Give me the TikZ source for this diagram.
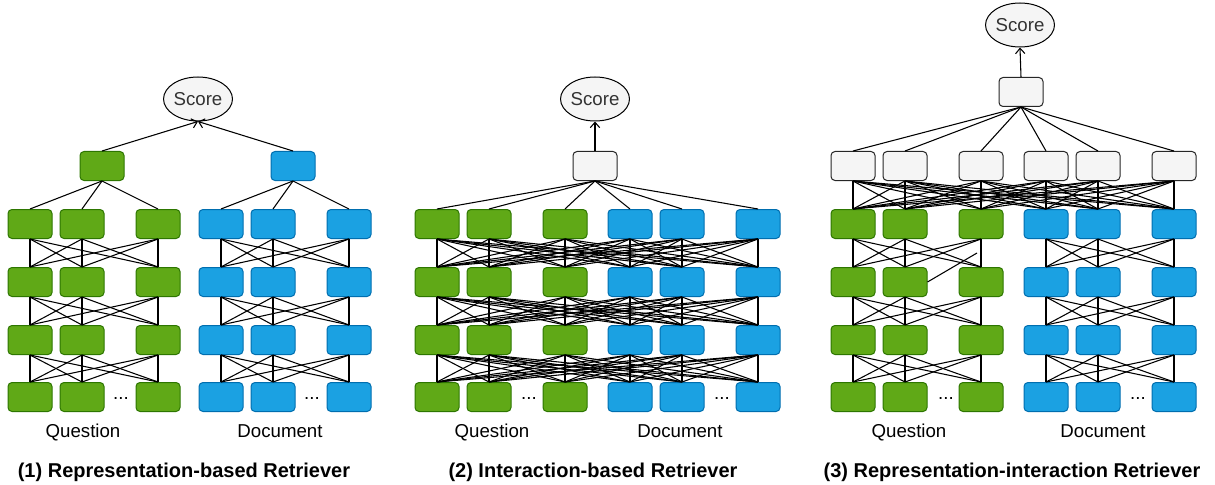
\documentclass[tikz,border=0pt]{standalone}
\usepackage{fontspec}
\setmainfont{Liberation Sans}
\usetikzlibrary{shapes.geometric,arrows.meta}
\definecolor{qgreen}{HTML}{60A917}
\definecolor{qgreenline}{HTML}{2D7600}
\definecolor{dblue}{HTML}{1BA1E2}
\definecolor{dblueline}{HTML}{006EAF}
\definecolor{cellgray}{HTML}{F5F5F5}
\definecolor{textgray}{HTML}{333333}

\begin{document}
\begin{tikzpicture}[x=0.75pt,y=-0.75pt,>={Straight Barb[length=4pt,width=7pt]},
  cell/.style={rectangle,rounded corners=3pt,minimum width=33pt,minimum height=21.75pt,inner sep=0pt,line width=0.75pt},
  qcell/.style={cell,fill=qgreen,draw=qgreenline},
  dcell/.style={cell,fill=dblue,draw=dblueline},
  gcell/.style={cell,fill=cellgray,draw=black!85},
  score/.style={ellipse,draw,line width=0.75pt,fill=cellgray,minimum width=45pt,minimum height=33pt,inner sep=0pt,text=textgray,font=\fontsize{14}{16}\selectfont},
  wire/.style={line width=0.8pt},
  lbl/.style={anchor=base,font=\fontsize{14}{16}\selectfont},
  ttl/.style={anchor=base,font=\bfseries\fontsize{15}{18}\selectfont}]
   \useasboundingbox (0,0) rectangle (1215,485);
   \begin{scope}[shift={(30,0)}]
    \foreach \r/\y in {1/224,2/282,3/340,4/397} {
     \foreach \c/\x/\s in {1/0/qcell,2/52/qcell,3/128/qcell,4/191/dcell,5/243/dcell,6/319/dcell} {
      \node[\s] (p1n\r\c) at (\x,\y) {};
     }
    }
    \node[qcell] (p1q) at (72,166) {};
    \node[dcell] (p1d) at (263,166) {};
    \node[score] (p1s) at (168,99) {Score};
    \draw[wire,->] (p1q.north) -- (p1s.south);
    \draw[wire,->] (p1d.north) -- (p1s.south);
    \foreach \c in {1,2,3} \draw[wire] (p1q.south) -- (p1n1\c.north);
    \foreach \c in {4,5,6} \draw[wire] (p1d.south) -- (p1n1\c.north);
    \foreach \r/\t in {1/2,2/3,3/4} {
     \foreach \grp in {{1,2,3},{4,5,6}} {
      \foreach \a in \grp {
       \foreach \b in \grp {
        \draw[wire] (p1n\r\a.south) -- (p1n\t\b.north);
       }
      }
     }
    }
    \node[lbl] (p1qdots) at (91,399) {...};
    \node[lbl] (p1ddots) at (282,399) {...};
    \node[lbl] (p1qlbl) at (53,437) {Question};
    \node[lbl] (p1dlbl) at (250,437) {Document};
    \node[ttl] (p1ttl) at (154,477) {(1) Representation-based Retriever};
   \end{scope}
   \begin{scope}[shift={(437,0)}]
    \foreach \r/\y in {1/224,2/282,3/340,4/397} {
     \foreach \c/\x/\s in {1/0/qcell,2/52/qcell,3/128/qcell,4/193/dcell,5/245/dcell,6/321/dcell} {
      \node[\s] (p2n\r\c) at (\x,\y) {};
     }
    }
    \node[gcell] (p2g) at (158,166) {};
    \node[score] (p2s) at (158,99) {Score};
    \draw[wire,->] (p2g.north) -- (p2s.south);
    \foreach \c in {1,...,6} \draw[wire] (p2g.south) -- (p2n1\c.north);
    \foreach \r/\t in {1/2,2/3,3/4} {
     \foreach \a in {1,...,6} {
      \foreach \b in {1,...,6} {
       \draw[wire] (p2n\r\a.south) -- (p2n\t\b.north);
      }
     }
    }
    \node[lbl] (p2qdots) at (92,399) {...};
    \node[lbl] (p2ddots) at (285,399) {...};
    \node[lbl] (p2qlbl) at (55,437) {Question};
    \node[lbl] (p2dlbl) at (243,437) {Document};
    \node[ttl] (p2ttl) at (156,477) {(2) Interaction-based Retriever};
   \end{scope}
   \begin{scope}[shift={(853,0)}]
    \foreach \r/\y in {1/224,2/282,3/340,4/397} {
     \foreach \c/\x/\s in {1/0/qcell,2/52/qcell,3/128/qcell,4/193/dcell,5/245/dcell,6/321/dcell} {
      \node[\s] (p3n\r\c) at (\x,\y) {};
     }
    }
    \foreach \c/\x in {1/0,2/52,3/128,4/193,5/245,6/321} {
     \node[gcell] (p3g\c) at (\x,166) {};
    }
    \node[gcell] (p3t) at (168,92) {};
    \node[score] (p3s) at (167,25) {Score};
    \draw[wire,->] (p3t.north) -- (p3s.south);
    \foreach \c in {1,...,6} \draw[wire] (p3t.south) -- (p3g\c.north);
    \foreach \a in {1,...,6} {
     \foreach \b in {1,...,6} {
      \draw[wire] (p3g\a.south) -- (p3n1\b.north);
     }
    }
    \foreach \r/\t in {1/2,2/3,3/4} {
     \foreach \grp in {{1,2,3},{4,5,6}} {
      \foreach \a in \grp {
       \foreach \b in \grp {
        \draw[wire] (p3n\r\a.south) -- (p3n\t\b.north);
       }
      }
     }
    }
    \coordinate (p3stray) at (124,253);
    \draw[wire] (p3n22.east) -- (p3stray);
    \node[lbl] (p3qdots) at (93,399) {...};
    \node[lbl] (p3ddots) at (285,399) {...};
    \node[lbl] (p3qlbl) at (56,437) {Question};
    \node[lbl] (p3dlbl) at (250,437) {Document};
    \node[ttl] (p3ttl) at (159,477) {(3) Representation-interaction Retriever};
   \end{scope}
  \end{tikzpicture}
\end{document}
